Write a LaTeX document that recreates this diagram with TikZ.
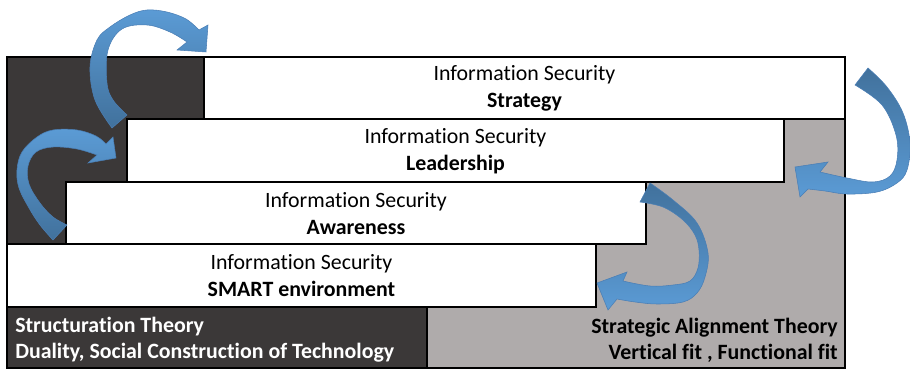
\documentclass[tikz,border=0pt]{standalone}
\usepackage{fontspec}
\setmainfont{Carlito}[Ligatures=NoCommon]
\usetikzlibrary{positioning}

\definecolor{darkbg}{HTML}{3B3838}
\definecolor{greybg}{HTML}{AFABAB}
\definecolor{ribbonlight}{HTML}{5B9BD5}
\definecolor{ribbondark}{HTML}{41719C}
\definecolor{ribbonline}{HTML}{4A7EB5}

\begin{document}
\begin{tikzpicture}[x=0.75pt,y=-0.75pt,
  layer/.style={draw=black,line width=1.5pt,fill=white,align=center,anchor=north west,
    minimum height=46.875pt,inner sep=0pt,outer sep=0pt,font=\fontsize{16.4}{20.25}\selectfont},
  theory/.style={inner sep=0pt,font=\bfseries\fontsize{16.4}{19.5}\selectfont},
  ribbon/.style={draw=ribbonline,line width=0.4pt}]
  \useasboundingbox (0,0) rectangle (910,370);

  % backgrounds of the two theories
  \draw[line width=1.5pt,fill=darkbg] (7,57) rectangle (427,368);
  \draw[line width=1.5pt,fill=greybg] (427,119.5) rectangle (845,368);

  % the four layers
  \node[layer,minimum width=480.75pt] (strategy)   at (204,57)    {Information Security\\\textbf{Strategy}};
  \node[layer,minimum width=492.75pt] (leadership) at (127,119.5) {Information Security\\\textbf{Leadership}};
  \node[layer,minimum width=435pt]    (awareness)  at (66,182)    {Information Security\\\textbf{Awareness}};
  \node[layer,minimum width=441.75pt] (smart)      at (7,244.5)   {Information Security\\\textbf{SMART environment}};

  \node[theory,anchor=west,align=left,text=white] (structuration) at (15,340)  {Structuration Theory\\Duality, Social Construction of Technology};
  \node[theory,anchor=east,align=right]           (alignment)     at (838,340) {Strategic Alignment Theory\\Vertical fit , Functional fit};

  % curved arrows, left side
  \shadedraw[ribbon,top color=ribbonlight,bottom color=ribbondark]
    plot[smooth,tension=0.6] coordinates {(112,128) (95,100) (90,67) (97,40) (110,27) (130,15) (147,10) (167,12) (186,19) (199,30)}
    -- (208,25) -- (206,52) -- (177,50) -- (187,42)
    -- plot[smooth,tension=0.6] coordinates {(187,42) (170,32) (147,25) (122,29) (108,50) (107,83) (113,100) (127,115)}
    -- cycle;
  \shadedraw[ribbon,top color=ribbonlight,bottom color=ribbondark]
    plot[smooth,tension=0.6] coordinates {(53,240) (40,225) (29,208) (19,188) (17,170) (22,152) (37,137) (53,130) (77,130) (96,136) (106,144)}
    -- (113,137) -- (116,158) -- (88,163) -- (97,155)
    -- plot[smooth,tension=0.6] coordinates {(97,155) (77,149) (53,147) (36,152) (28,166) (29,184) (40,203) (53,217) (67,225)}
    -- cycle;

  % curved arrows, right side
  \shadedraw[ribbon,top color=ribbondark,bottom color=ribbonlight]
    plot[smooth,tension=0.6] coordinates {(650,183) (673,200) (697,223) (708,253) (705,277) (697,293) (683,302) (657,304) (635,302) (617,299)}
    -- (608,310) -- (597,283) -- (627,272) -- (623,281)
    -- plot[smooth,tension=0.6] coordinates {(623,281) (650,286) (673,285) (690,281) (698,268) (699,250) (695,235) (683,220) (663,207) (640,202)}
    -- cycle;
  \shadedraw[ribbon,top color=ribbondark,bottom color=ribbonlight]
    plot[smooth,tension=0.6] coordinates {(868,68) (887,87) (903,113) (910,143) (907,170) (897,183) (877,192) (847,194) (825,191) (808,189)}
    -- (800,197) -- (795,167) -- (828,162) -- (820,172)
    -- plot[smooth,tension=0.6] coordinates {(820,172) (847,178) (873,182) (890,176) (897,160) (896,135) (882,105) (855,85)}
    -- cycle;
\end{tikzpicture}
\end{document}
